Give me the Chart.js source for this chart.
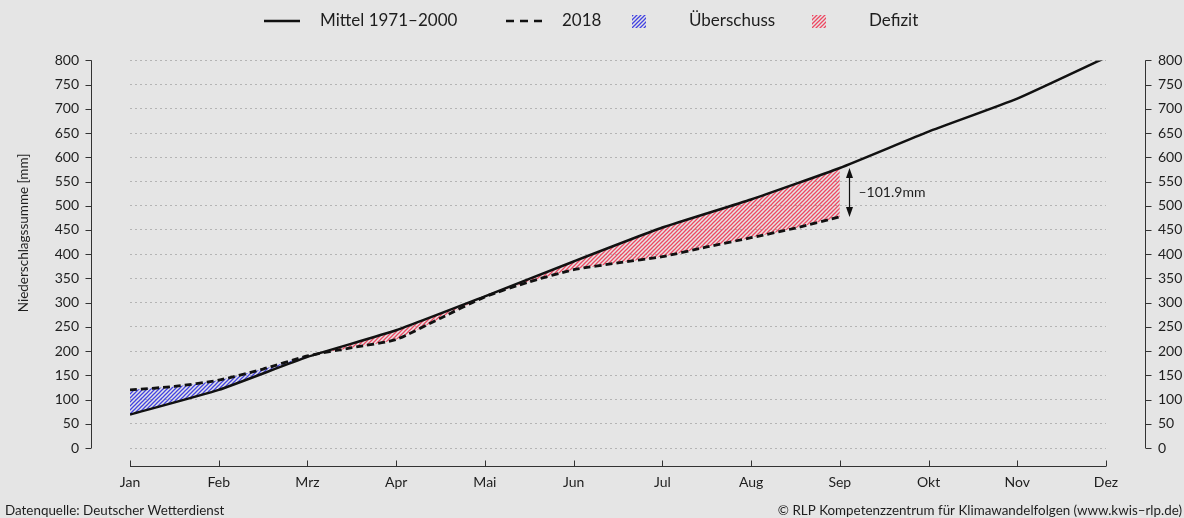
<!DOCTYPE html>
<html><head><meta charset="utf-8">
<script src="https://cdn.jsdelivr.net/npm/chart.js@4.4.1/dist/chart.umd.min.js"></script>
<style>html,body{margin:0;padding:0;background:#e5e5e5;overflow:hidden}#wrap{width:1184px;height:518px;position:relative}</style>
</head><body><div id="wrap"><canvas id="c"></canvas></div>
<script>
// ---- data ----
const months = ['Jan','Feb','Mrz','Apr','Mai','Jun','Jul','Aug','Sep','Okt','Nov','Dez'];
const mittel = [69,120,188,243,313,385,455,513,578,653,721,806];
const monthPos2018 = [0,0.5,1,1.5,2,2.5,3,3.5,4,4.5,5,5.5,6,6.5,7,7.5,8];
const werte2018 = [120,127,140,163,190,207,224,268,312,343,368,382,395,415,434,454,477];
const yTickValues = [0,50,100,150,200,250,300,350,400,450,500,550,600,650,700,750,800];
const legendLabels = ['Mittel 1971–2000','2018','Überschuss','Defizit'];
const differenzLabel = '–101.9mm';
const yTitle = 'Niederschlagssumme [mm]';
const quelleText = 'Datenquelle: Deutscher Wetterdienst';
const copyrightText = '© RLP Kompetenzzentrum für Klimawandelfolgen (www.kwis–rlp.de)';

// ---- styles ----
const FONT = 'Lato';
const TEXT = '#1e1e1e';
const AXIS = '#333333';
const BLUE = '#4242e2';
const RED = '#ee4862';

function hatch(color){
  const s = 4;
  const c = document.createElement('canvas'); c.width = s; c.height = s;
  const g = c.getContext('2d');
  g.strokeStyle = color; g.lineWidth = 1.25; g.lineCap = 'square';
  for (const o of [-s, 0, s]) {
    g.beginPath(); g.moveTo(o - 1, s + 1); g.lineTo(o + s + 1, -1); g.stroke();
  }
  return g.createPattern(c, 'repeat');
}
const blueHatch = hatch(BLUE);
const redHatch = hatch(RED);

Chart.defaults.font.family = FONT;
Chart.defaults.color = TEXT;

const decor = {
  id: 'decor',
  afterDraw(chart){
    const g = chart.ctx, ca = chart.chartArea;
    const xs = chart.scales.x, ys = chart.scales.y;
    g.save();
    // axes
    g.strokeStyle = AXIS; g.lineWidth = 1;
    const lx = Math.round(ca.left - 39) + 0.5, rx = Math.round(ca.right + 39) + 0.5, by = Math.round(ca.bottom + 18) + 0.5;
    g.beginPath();
    g.moveTo(lx, ys.getPixelForValue(800)); g.lineTo(lx, ys.getPixelForValue(0));
    g.moveTo(rx, ys.getPixelForValue(800)); g.lineTo(rx, ys.getPixelForValue(0));
    yTickValues.forEach(v => {
      const py = Math.round(ys.getPixelForValue(v)) + 0.5;
      g.moveTo(lx - 6, py); g.lineTo(lx, py);
      g.moveTo(rx, py); g.lineTo(rx + 6, py);
    });
    g.moveTo(xs.getPixelForValue(0), by); g.lineTo(xs.getPixelForValue(11), by);
    months.forEach((m, i) => {
      const px = Math.round(xs.getPixelForValue(i)) + 0.5;
      g.moveTo(px, by); g.lineTo(px, by - 6);
    });
    g.stroke();

    // y-axis title
    g.save();
    g.translate(24, 233); g.rotate(-Math.PI / 2);
    g.font = '13.5px ' + FONT; g.fillStyle = TEXT; g.textAlign = 'center'; g.textBaseline = 'middle';
    g.fillText(yTitle, 0, 0);
    g.restore();

    // legend
    const ly = 21;
    g.font = '17px ' + FONT; g.fillStyle = TEXT; g.textBaseline = 'middle'; g.textAlign = 'left';
    g.strokeStyle = '#111'; g.lineWidth = 2.4;
    g.beginPath(); g.moveTo(264, ly); g.lineTo(300, ly); g.stroke();
    g.fillText(legendLabels[0], 320, ly);
    g.setLineDash([8,6]);
    g.beginPath(); g.moveTo(506, ly); g.lineTo(544, ly); g.stroke();
    g.setLineDash([]);
    g.fillText(legendLabels[1], 562, ly);
    g.fillStyle = blueHatch; g.fillRect(632, 15, 14, 13);
    g.fillStyle = redHatch; g.fillRect(812, 15, 14, 13);
    g.fillStyle = TEXT;
    g.fillText(legendLabels[2], 689, ly);
    g.fillText(legendLabels[3], 869, ly);

    // difference annotation at the last 2018 value
    const li = werte2018.length - 1;
    const ax = Math.round(xs.getPixelForValue(monthPos2018[li]) + 9) + 0.5;
    const yTop = ys.getPixelForValue(mittel[monthPos2018[li]]);
    const yBot = ys.getPixelForValue(werte2018[li]);
    g.strokeStyle = '#111'; g.lineWidth = 1.2; g.fillStyle = '#111';
    g.beginPath(); g.moveTo(ax, yTop + 6); g.lineTo(ax, yBot - 6); g.stroke();
    g.beginPath(); g.moveTo(ax, yTop); g.lineTo(ax - 3.5, yTop + 10); g.lineTo(ax + 3.5, yTop + 10); g.closePath(); g.fill();
    g.beginPath(); g.moveTo(ax, yBot); g.lineTo(ax - 3.5, yBot - 10); g.lineTo(ax + 3.5, yBot - 10); g.closePath(); g.fill();
    g.fillStyle = TEXT; g.font = '14px ' + FONT; g.textAlign = 'left';
    g.fillText(differenzLabel, ax + 9, (yTop + yBot) / 2);

    // footer
    g.font = '13.4px ' + FONT; g.fillStyle = TEXT;
    g.textAlign = 'left'; g.fillText(quelleText, 5, 511);
    g.textAlign = 'right'; g.fillText(copyrightText, 1182, 511);
    g.restore();
  }
};

new Chart(document.getElementById('c'), {
  type: 'line',
  data: {
    datasets: [
      { label: legendLabels[0], data: mittel.map((v, i) => ({x: i, y: v})),
        borderColor: '#111', borderWidth: 2.5, pointRadius: 0, tension: 0.15, fill: false },
      { label: legendLabels[1], data: werte2018.map((v, i) => ({x: monthPos2018[i], y: v})),
        borderColor: '#111', borderWidth: 2.8, borderDash: [7,4], pointRadius: 0, tension: 0.2,
        fill: { target: 0, above: blueHatch, below: redHatch } }
    ]
  },
  options: {
    responsive: true, maintainAspectRatio: false, animation: false,
    layout: { padding: { top: 41, left: 0, right: 0, bottom: 0 } },
    plugins: { legend: { display: false }, tooltip: { enabled: false } },
    scales: {
      x: { type: 'linear', min: 0, max: 11,
        grid: { display: false, drawTicks: false }, border: { display: false },
        ticks: { stepSize: 1, autoSkip: false, padding: 26, maxRotation: 0, font: { size: 14 }, color: TEXT,
          callback: v => months[v] },
        afterFit: s => { s.height = 70; } },
      y: { position: 'left', min: 0, max: 800,
        grid: { color: '#b4b4b4', lineWidth: 1, drawTicks: false },
        border: { display: false, dash: [2,3] },
        ticks: { stepSize: 50, padding: 51, font: { size: 14 }, color: TEXT },
        afterFit: s => { s.width = 130; } },
      y2: { position: 'right', min: 0, max: 800,
        grid: { display: false, drawTicks: false }, border: { display: false },
        ticks: { stepSize: 50, padding: 52, font: { size: 14 }, color: TEXT },
        afterFit: s => { s.width = 78; } }
    }
  },
  plugins: [decor]
});
</script>
</body></html>
